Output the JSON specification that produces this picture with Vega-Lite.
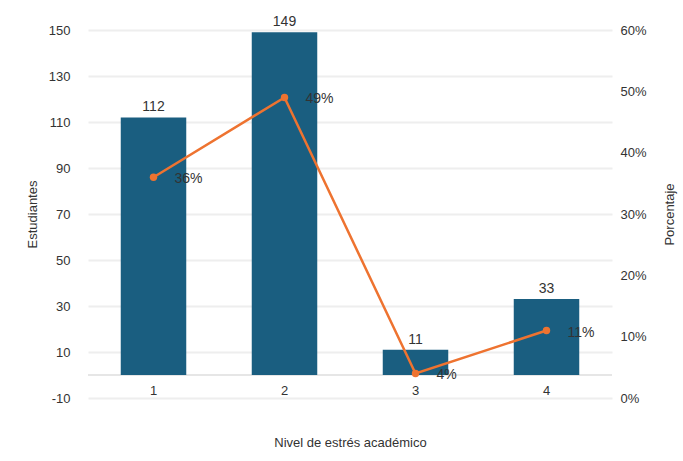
{
  "$schema": "https://vega.github.io/schema/vega-lite/v6.json",
  "autosize": {"type": "none"},
  "width": 524,
  "height": 368,
  "padding": {"left": 88, "top": 30, "right": 71, "bottom": 63},
  "background": "white",
  "config": {
    "view": {"stroke": null},
    "font": "Liberation Sans",
    "axis": {"labelFont": "Liberation Sans", "titleFont": "Liberation Sans", "labelFontSize": 13, "titleFontSize": 13, "labelColor": "#333333", "titleColor": "#333333", "titleFontWeight": "normal"}
  },
  "data": {"values": [
    {"Nivel": "1", "Estudiantes": 112, "Porcentaje": 0.36},
    {"Nivel": "2", "Estudiantes": 149, "Porcentaje": 0.49},
    {"Nivel": "3", "Estudiantes": 11, "Porcentaje": 0.04},
    {"Nivel": "4", "Estudiantes": 33, "Porcentaje": 0.11}
  ]},
  "encoding": {
    "x": {"field": "Nivel", "type": "ordinal", "scale": {"paddingInner": 0.5, "paddingOuter": 0.25},
      "axis": {"title": "Nivel de estrés académico", "labelAngle": 0, "domain": false, "ticks": false, "labelPadding": -14, "titleY": 44, "titleBaseline": "middle"}}
  },
  "layer": [
    {
      "layer": [
        {
          "mark": {"type": "rule", "color": "#e6e6e6", "strokeWidth": 2},
          "data": {"values": [{"Estudiantes": 0}]},
          "encoding": {"x": null, "y": {"field": "Estudiantes", "type": "quantitative"}}
        },
        {
          "mark": {"type": "bar", "color": "#1a5e80"},
          "encoding": {
            "y": {"field": "Estudiantes", "type": "quantitative", "scale": {"domain": [-10, 150], "nice": false, "zero": false},
              "axis": {"title": "Estudiantes", "values": [-10, 10, 30, 50, 70, 90, 110, 130, 150], "labelExpr": "'' + datum.value", "domain": false, "ticks": false, "labelPadding": 18, "titlePadding": 9, "gridColor": "#eeeeee", "gridWidth": 2}}
          }
        },
        {
          "mark": {"type": "text", "baseline": "bottom", "dy": -3, "fontSize": 14, "color": "#333333"},
          "encoding": {
            "y": {"field": "Estudiantes", "type": "quantitative"},
            "text": {"field": "Estudiantes", "type": "quantitative"}
          }
        }
      ]
    },
    {
      "layer": [
        {
          "mark": {"type": "line", "color": "#ee7330", "strokeWidth": 2.5, "point": {"filled": true, "color": "#ee7330", "size": 55}},
          "encoding": {
            "y": {"field": "Porcentaje", "type": "quantitative", "scale": {"domain": [0, 0.6], "nice": false},
              "axis": {"title": "Porcentaje", "orient": "right", "format": ".0%", "values": [0, 0.1, 0.2, 0.3, 0.4, 0.5, 0.6], "domain": false, "ticks": false, "grid": false, "labelPadding": 8, "titleAngle": 270, "titlePadding": 30}}
          }
        },
        {
          "mark": {"type": "text", "align": "left", "baseline": "middle", "dx": 21, "dy": 2, "fontSize": 14, "color": "#333333"},
          "encoding": {
            "y": {"field": "Porcentaje", "type": "quantitative"},
            "text": {"field": "Porcentaje", "type": "quantitative", "format": ".0%"}
          }
        }
      ]
    }
  ],
  "resolve": {"scale": {"y": "independent"}}
}
